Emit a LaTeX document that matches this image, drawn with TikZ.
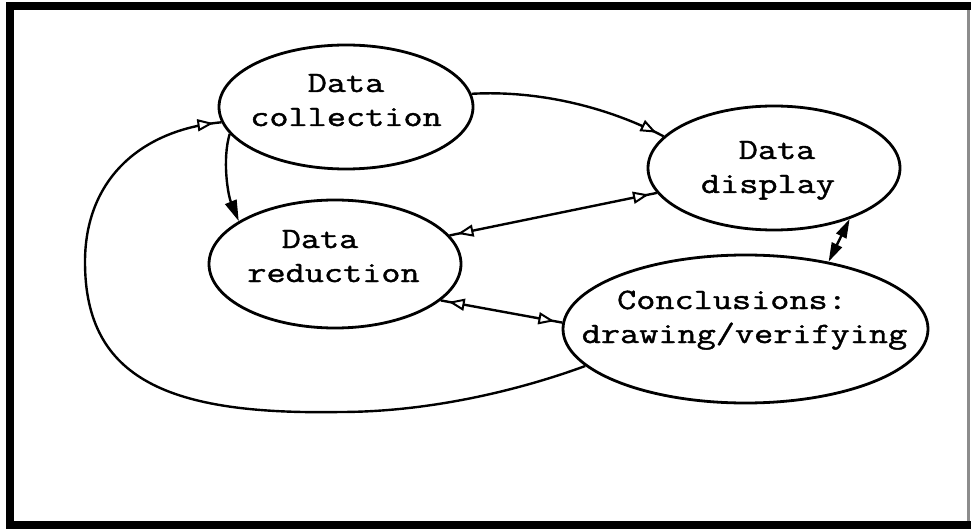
\documentclass[tikz,border=0pt]{standalone}
\usepackage{fontspec}
\newfontfamily\tyfont{Latin Modern Mono}[FakeStretch=1.26,FakeBold=1.4]
\usetikzlibrary{arrows.meta,decorations.markings,shapes.geometric}
\newcommand{\etxt}[3]{\raisebox{#1}[0pt][0pt]{\makebox[0pt]{\hspace*{#2}\begin{tabular}[t]{@{}c@{}}#3\end{tabular}}}}
\begin{document}
\begin{tikzpicture}[x=1pt,y=-1pt,
  proc/.style={ellipse, draw, line width=2.8pt, inner sep=0pt,
    font=\tyfont\fontsize{29.5}{34}\selectfont},
  conn/.style={line width=2.4pt},
  oend/.style={postaction={decorate,decoration={markings,
    mark=at position -8pt with {\arrow{Triangle[fill=white,length=16pt,width=12pt,line width=2pt]}}}}},
  ostart/.style={postaction={decorate,decoration={markings,
    mark=at position 8pt with {\arrowreversed{Triangle[fill=white,length=16pt,width=12pt,line width=2pt]}}}}},
  ftip/.style={-{Triangle[length=21pt,width=12pt]}},
  ftips/.style={{Triangle[length=19pt,width=11pt]}-{Triangle[length=19pt,width=11pt]}}
]
\useasboundingbox (0,0) rectangle (971,529);
\fill[white] (0,0) rectangle (971,529);
% frame
\fill[black] (6,2) rectangle (971,10);
\fill[black] (6,2) rectangle (14,529);
\fill[black] (6,521) rectangle (971,529);
\fill[black!45] (967,10) rectangle (970,521);

% processes
\node[proc, minimum width=254pt, minimum height=124pt] (coll) at (346,107)
  {\etxt{15pt}{0pt}{Data\\collection}};
\node[proc, minimum width=252pt, minimum height=124pt] (disp) at (774,168)
  {\etxt{9pt}{-12pt}{\hspace*{18pt}Data\\display}};
\node[proc, minimum width=252pt, minimum height=128pt] (red) at (335,264)
  {\etxt{16pt}{-3pt}{\hspace*{-27pt}Data\\reduction}};
\node[proc, minimum width=365pt, minimum height=148pt] (conc) at (745.5,329)
  {\etxt{20pt}{-2pt}{\hspace*{-25pt}Conclusions:\\drawing/verifying}};

% connectors
\draw[conn, oend] (coll.6) .. controls (540,90) and (610,108) .. (disp.164);
\draw[conn, oend, ostart] (disp.192) -- (red.14);
\draw[conn, oend, ostart] (red.-19) -- (conc.178);
\draw[conn, ftips] (disp.-34) -- (conc.39);
\draw[conn, ftip] (coll.193) .. controls (222,160) and (228,195) .. (red.156);
\draw[conn, oend] (conc.193) .. controls (520,390) and (430,412) .. (340,412)
  .. controls (170,415) and (85,380) .. (85,262)
  .. controls (85,180) and (140,130) .. (coll.187);
\end{tikzpicture}
\end{document}
